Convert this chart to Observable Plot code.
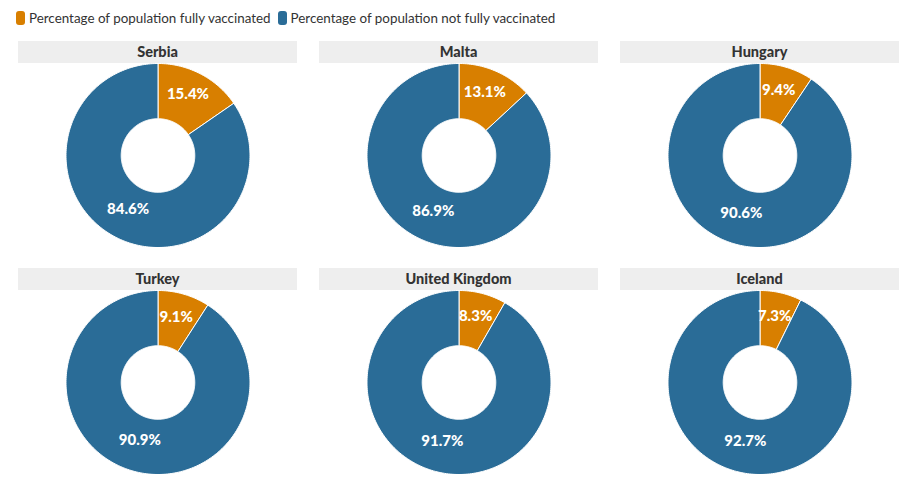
<!DOCTYPE html>
<html>
<head>
<meta charset="utf-8">
<script src="https://cdn.jsdelivr.net/npm/d3@7"></script>
<script src="https://cdn.jsdelivr.net/npm/@observablehq/plot@0.6"></script>
<style>
  body { margin: 0; background: #fff; font-family: Lato, "Source Sans Pro", sans-serif; color: #333; }
  #legend { position: absolute; left: 16px; top: 10px; display: flex; align-items: center; font-size: 13.4px; color: #333; }
  #legend .item { display: flex; align-items: center; margin-right: 7px; }
  #legend .sw { width: 9px; height: 14px; border-radius: 3px; margin-right: 4px; display: inline-block; }
  #grid { position: absolute; left: 18px; top: 41px; display: grid; grid-template-columns: repeat(3, 279px); column-gap: 22px; row-gap: 21px; }
  .head { height: 22px; background: #eeeeee; text-align: center; font-weight: 900; font-size: 14.5px; line-height: 22px; color: #333; }
  .panel svg { display: block; }
</style>
</head>
<body>
<div id="legend"></div>
<div id="grid"></div>
<script>
const countries = ["Serbia", "Malta", "Hungary", "Turkey", "United Kingdom", "Iceland"];
const fullyVaccinated = [15.4, 13.1, 9.4, 9.1, 8.3, 7.3];
const notFullyVaccinated = [84.6, 86.9, 90.6, 90.9, 91.7, 92.7];
const statuses = ["Percentage of population fully vaccinated", "Percentage of population not fully vaccinated"];
const colors = ["#d87f00", "#2a6c97"];

// legend
const legend = document.getElementById("legend");
statuses.forEach((s, k) => {
  const it = document.createElement("div");
  it.className = "item";
  it.innerHTML = `<span class="sw" style="background:${colors[k]}"></span><span>${s}</span>`;
  legend.appendChild(it);
});

const W = 279, H = 184;
const INNER = 0.4, LABEL_R = 0.7;
const grid = document.getElementById("grid");

countries.forEach((country, i) => {
  const values = [fullyVaccinated[i], notFullyVaccinated[i]];
  const pts = [];
  const labels = [];
  let acc = 0;
  values.forEach((v, k) => {
    const a0 = acc / 100 * 2 * Math.PI;
    const a1 = (acc + v) / 100 * 2 * Math.PI;
    acc += v;
    const n = Math.max(4, Math.ceil(v * 3));
    const outer = d3.range(n + 1).map(j => a0 + (a1 - a0) * j / n);
    const inner = outer.slice().reverse();
    outer.forEach(a => pts.push({x: Math.sin(a), y: Math.cos(a), status: statuses[k]}));
    inner.forEach(a => pts.push({x: INNER * Math.sin(a), y: INNER * Math.cos(a), status: statuses[k]}));
    pts.push({x: Math.sin(a0), y: Math.cos(a0), status: statuses[k]});
    const am = (a0 + a1) / 2;
    labels.push({x: LABEL_R * Math.sin(am), y: LABEL_R * Math.cos(am), text: v.toFixed(1) + "%"});
  });

  const panel = document.createElement("div");
  panel.className = "panel";
  const head = document.createElement("div");
  head.className = "head";
  head.textContent = country;
  panel.appendChild(head);

  const chart = Plot.plot({
    width: W,
    height: H,
    margin: 0,
    style: {fontFamily: "Lato, sans-serif", background: "transparent"},
    x: {domain: [-W / H, W / H], axis: null},
    y: {domain: [-1, 1], axis: null},
    color: {domain: statuses, range: colors},
    marks: [
      Plot.line(pts, {x: "x", y: "y", z: "status", fill: "status", stroke: "white", strokeWidth: 1, curve: "linear"}),
      Plot.text(labels, {x: "x", y: "y", text: "text", fill: "white", fontWeight: 900, fontSize: 15, lineAnchor: "bottom", dy: 1, textAnchor: "middle"})
    ]
  });
  panel.appendChild(chart);
  grid.appendChild(panel);
});
</script>
</body>
</html>
